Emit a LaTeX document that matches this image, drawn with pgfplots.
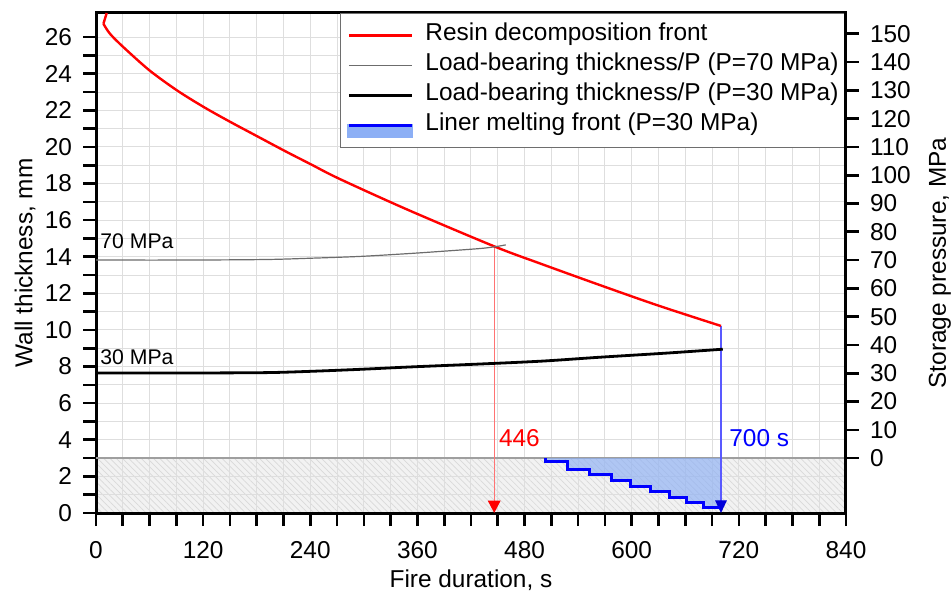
\documentclass[border=0pt]{standalone}
\usepackage{fontspec}
\setmainfont{Liberation Sans}
\usepackage{pgfplots}
\pgfplotsset{compat=1.18}
\usetikzlibrary{arrows.meta,patterns.meta}

\definecolor{gridgray}{RGB}{222,222,222}
\definecolor{liner}{RGB}{140,175,245}
\definecolor{legframe}{RGB}{110,110,110}

\pgfplotsset{
  linerlegend/.style={legend image code/.code={\fill[liner] (0bp,-5.5bp) rectangle (31.5bp,0bp); \draw[##1] (0bp,0bp) -- (31.5bp,0bp);}},
  layers/mylayers/.define layer set={axis background, axis grid, pre main, main, axis ticks, axis lines, axis tick labels, axis descriptions, axis foreground}{},
}

\begin{document}
\begin{tikzpicture}
\pgfplotsset{
  every axis/.append style={font=\fontsize{12.2bp}{14.6bp}\selectfont},
  /pgf/number format/assume math mode=true,
}
\begin{axis}[
  set layers=mylayers,
  at={(0,0)}, anchor=south west,
  scale only axis, width=375bp, height=250bp,
  xmin=0, xmax=840, ymin=0, ymax=27.32,
  xtick={0,120,...,840}, minor x tick num=3,
  ytick={0,2,...,26}, minor y tick num=1,
  xtick pos=left, ytick pos=left,
  tick align=outside,
  major tick length=6.5bp, minor tick length=6.5bp,
  tick style={black, line width=1.3bp},
  axis line style={black, line width=1.5bp},
  grid=both,
  major grid style={gridgray, line width=0.5bp},
  minor grid style={gridgray, line width=0.5bp},
  xticklabel style={yshift=-4.4bp},
  yticklabel style={xshift=-2bp},
  xlabel={Fire duration, s},
  ylabel={Wall thickness, mm},
  every axis x label/.style={at={(axis description cs:0.5,0)}, yshift=-33.5bp, anchor=center},
  every axis y label/.style={at={(axis description cs:0,0.5)}, xshift=-35.5bp, rotate=90, anchor=center},
  legend cell align=left,
  legend image code/.code={\draw[#1] (0bp,0bp) -- (31.5bp,0bp);},
  legend style={at={(1,1)}, anchor=north east, draw=legframe, line width=0.5bp, fill=white,
    inner xsep=3.5bp, inner ysep=3.5bp, row sep=0pt, column sep=6bp,
    nodes={inner sep=0pt, text height=10bp, text depth=5bp}},
]
% protective hatched band 0-3 mm
\addplot[forget plot, on layer=axis background, draw=none, fill=gray!10,
  postaction={pattern={Lines[angle=-45,distance=2.2bp,line width=0.35bp]}, pattern color=gray!30}]
  coordinates {(0,0) (840,0) (840,3) (0,3)} -- cycle;
\addplot[forget plot, gray!75, line width=0.8bp] coordinates {(0,3) (840,3)};

% liner melting fill
\addplot[forget plot, draw=none, fill=liner, fill opacity=0.65] coordinates {
  (503,3.0) (503,2.80) (528,2.80) (528,2.39) (553,2.39) (553,2.08) (577,2.08) (577,1.77)
  (599,1.77) (599,1.47) (621,1.47) (621,1.20) (642,1.20) (642,0.84) (661,0.84) (661,0.56)
  (680,0.56) (680,0.31) (700,0.31) (700,3.0)} -- cycle;

% arrows
\addplot[forget plot, red!55, line width=0.6bp, -{Triangle[width=6.3bp,length=6.2bp,color=red]}]
  coordinates {(446,14.55) (446,0)};
\addplot[forget plot, blue!65, line width=0.6bp, -{Triangle[width=5.8bp,length=6.3bp,color=blue!85!black]}]
  coordinates {(700,10.22) (700,0)};

% resin decomposition front (initial kink, then smooth)
\addplot[forget plot, red, line width=1.2bp] coordinates {(12,27.32) (8.3,26.73)};
\addplot[red, line width=1.2bp, smooth, tension=0.5] coordinates {
  (8.3,26.73) (15.75,26.18) (30.75,25.45) (60,24.18) (90.75,23.09) (120.75,22.18)
  (150.75,21.36) (180.75,20.58) (210.75,19.8) (240.75,19.05) (273,18.25) (350,16.55)
  (447,14.55) (497,13.64) (564,12.46) (630,11.33) (700,10.22)};
\addlegendentry{Resin decomposition front}

% load bearing 70 MPa
\addplot[gray!85!black, line width=0.6bp, smooth] coordinates {
  (0,13.82) (100,13.82) (190,13.85) (240,13.92) (296,14.02) (352,14.18) (385,14.29)
  (430,14.45) (447,14.55) (459,14.65)};
\addlegendentry{Load-bearing thickness/P (P=70 MPa)}

% load bearing 30 MPa
\addplot[black, line width=1.4bp, smooth] coordinates {
  (0,7.65) (100,7.65) (190,7.67) (240,7.74) (296,7.85) (352,7.98) (430,8.14)
  (500,8.3) (564,8.51) (640,8.74) (702,8.95)};
\addlegendentry{Load-bearing thickness/P (P=30 MPa)}

% liner melting front
\addplot[blue, line width=1.5bp, linerlegend]
  coordinates {
  (503,3.0) (503,2.80) (528,2.80) (528,2.39) (553,2.39) (553,2.08) (577,2.08) (577,1.77)
  (599,1.77) (599,1.47) (621,1.47) (621,1.20) (642,1.20) (642,0.84) (661,0.84) (661,0.56)
  (680,0.56) (680,0.31) (699,0.31)};
\addlegendentry{Liner melting front (P=30 MPa)}

\node[anchor=base west, inner sep=0pt, font=\fontsize{10.6bp}{12bp}\selectfont] at (axis cs:4.5,14.45) {70 MPa};
\node[anchor=base west, inner sep=0pt, font=\fontsize{10.6bp}{12bp}\selectfont] at (axis cs:4.5,8.14) {30 MPa};
\node[anchor=base west, inner sep=0pt, red] at (axis cs:451,3.66) {446};
\node[anchor=base west, inner sep=0pt, blue] at (axis cs:709,3.66) {700 s};
\end{axis}

\begin{axis}[
  at={(0,0)}, anchor=south west,
  scale only axis, width=375bp, height=250bp,
  xmin=0, xmax=840, ymin=-19.41, ymax=157.35,
  axis x line=none, axis y line*=right,
  ytick={0,10,...,150},
  tick align=outside, major tick length=6.5bp,
  tick style={black, line width=1.3bp},
  axis line style={black, line width=1.5bp},
  yticklabel style={xshift=2bp},
  ylabel={Storage pressure, MPa},
  every axis y label/.style={at={(axis description cs:1,0.5)}, xshift=47bp, rotate=90, anchor=center},
]
\addplot[draw=none] coordinates {(0,0) (840,0)};
\end{axis}

\pgfresetboundingbox
\path[use as bounding box] (-48bp,-39bp) rectangle (428bp,256.5bp);
\end{tikzpicture}
\end{document}
